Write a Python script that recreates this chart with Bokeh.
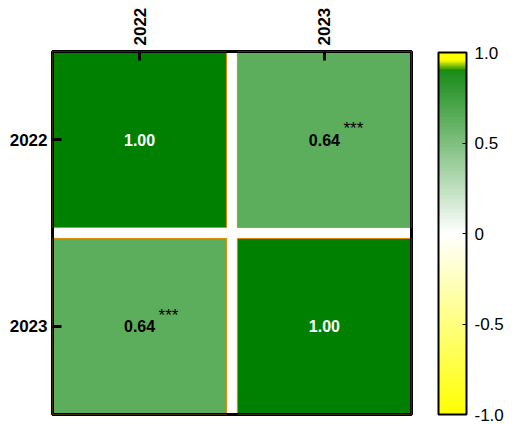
from bokeh.plotting import figure
from bokeh.models import (Range1d, FixedTicker, ColorBar, LinearColorMapper,
                          ColumnDataSource, CustomJSTickFormatter)
from bokeh.core.properties import value
from bokeh.embed import file_html
from bokeh.resources import INLINE

# correlation matrix between the two years
years = ["2022", "2023"]
corr = [[1.00, 0.64],
        [0.64, 1.00]]
stars = [["", "***"],
         ["***", ""]]
cbar_ticks = [-1.0, -0.5, 0.0, 0.5, 1.0]
cbar_labels = ["-1.0", "-0.5", "0", "0.5", "1.0"]

FONT = "Liberation Sans"
GREEN = (0, 128, 0)
YELLOW = (255, 255, 0)
WHITE = (255, 255, 255)


def mix(a, b, t):
    return "#%02x%02x%02x" % tuple(int(round(a[k] + (b[k] - a[k]) * t)) for k in range(3))


def diverging(n, cap=False):
    cols = []
    for i in range(n):
        v = -1 + 2 * i / (n - 1)
        if v < 0:
            c = mix(YELLOW, WHITE, v + 1)
        else:
            c = mix(WHITE, GREEN, v)
        if cap:
            if v >= 0.96:
                c = mix(YELLOW, YELLOW, 0)
            elif v >= 0.90:
                c = mix(GREEN, YELLOW, (v - 0.90) / 0.06)
        cols.append(c)
    return cols


cell_mapper = LinearColorMapper(palette=diverging(256), low=-1, high=1)
bar_mapper = LinearColorMapper(palette=diverging(256, cap=True), low=-1, high=1)

n = len(years)
gap = 0.03
edges_lo = [j + (gap if j > 0 else 0) for j in range(n)]
edges_hi = [j + 1 - (gap if j < n - 1 else 0) for j in range(n)]
centers = [(a + b) / 2 for a, b in zip(edges_lo, edges_hi)]

left, right, top, bottom, vals, xs, ys, txt, tcol, st = [], [], [], [], [], [], [], [], [], []
for i in range(n):
    for j in range(n):
        left.append(edges_lo[j]); right.append(edges_hi[j])
        top.append(edges_lo[i]); bottom.append(edges_hi[i])
        vals.append(corr[i][j])
        xs.append(centers[j]); ys.append(centers[i])
        txt.append("%.2f" % corr[i][j])
        tcol.append("white" if corr[i][j] > 0.8 else "black")
        st.append(stars[i][j])

src = ColumnDataSource(dict(left=left, right=right, top=top, bottom=bottom, v=vals,
                            x=xs, y=ys, txt=txt, tcol=tcol, st=st))

p = figure(frame_width=359, frame_height=363,
           x_range=Range1d(0, n), y_range=Range1d(n, 0),
           x_axis_location="above", output_backend="svg", toolbar_location=None,
           min_border_left=52, min_border_top=51, min_border_bottom=9, min_border_right=0)
p.background_fill_color = "white"
p.border_fill_color = "white"
p.grid.visible = False
p.outline_line_color = "black"
p.outline_line_width = 3

p.quad(left="left", right="right", top="top", bottom="bottom", source=src,
       fill_color={"field": "v", "transform": cell_mapper},
       line_color="#e08a00", line_width=1)

# heavy frame drawn over the cells
p.quad(left=[0], right=[n], top=[0], bottom=[n], fill_color=None,
       line_color="black", line_width=3)

p.text(x="x", y="y", text="txt", source=src, text_color="tcol",
       text_align="center", text_baseline="middle", text_font=value(FONT),
       text_font_style="bold", text_font_size="16px")
p.text(x="x", y="y", text="st", source=src, text_color="black",
       text_align="left", text_baseline="middle", text_font=value(FONT),
       text_font_size="17px", x_offset=19, y_offset=-11)

label_js = "const c = %s; const l = %s; let k = 0; for (let i = 0; i < c.length; i++) { if (Math.abs(c[i] - tick) < 1e-6) k = i; } return l[k];" % (centers, years)
for ax in (p.xaxis[0], p.yaxis[0]):
    ax.ticker = FixedTicker(ticks=centers)
    ax.formatter = CustomJSTickFormatter(code=label_js.replace("'", '"'))
    ax.axis_line_color = None
    ax.major_tick_in = 9
    ax.major_tick_out = 0
    ax.major_tick_line_width = 3
    ax.major_tick_line_color = "black"
    ax.minor_tick_line_color = None
    ax.major_label_text_font = FONT
    ax.major_label_text_font_style = "bold"
    ax.major_label_text_font_size = "17px"
    ax.major_label_text_color = "black"
p.xaxis.major_label_orientation = "vertical"
p.xaxis.major_label_standoff = 6
p.yaxis.major_label_standoff = 5

cbar_js = "const t = %s; const l = %s; let k = 0; for (let i = 0; i < t.length; i++) { if (Math.abs(t[i] - tick) < 1e-6) k = i; } return l[k];" % (cbar_ticks, cbar_labels)
cb = ColorBar(color_mapper=bar_mapper, width=28, height=362,
              location=(27, 0),
              ticker=FixedTicker(ticks=cbar_ticks),
              formatter=CustomJSTickFormatter(code=cbar_js.replace("'", '"')),
              padding=0, label_standoff=8,
              bar_line_color="black", bar_line_width=2,
              major_tick_line_color="black", major_tick_in=4, major_tick_out=0,
              major_label_text_font=FONT, major_label_text_font_size="17px",
              major_label_text_color="black",
              border_line_color=None, background_fill_color=None)
p.add_layout(cb, "right")

open("out.html", "w").write(file_html(p, INLINE))
